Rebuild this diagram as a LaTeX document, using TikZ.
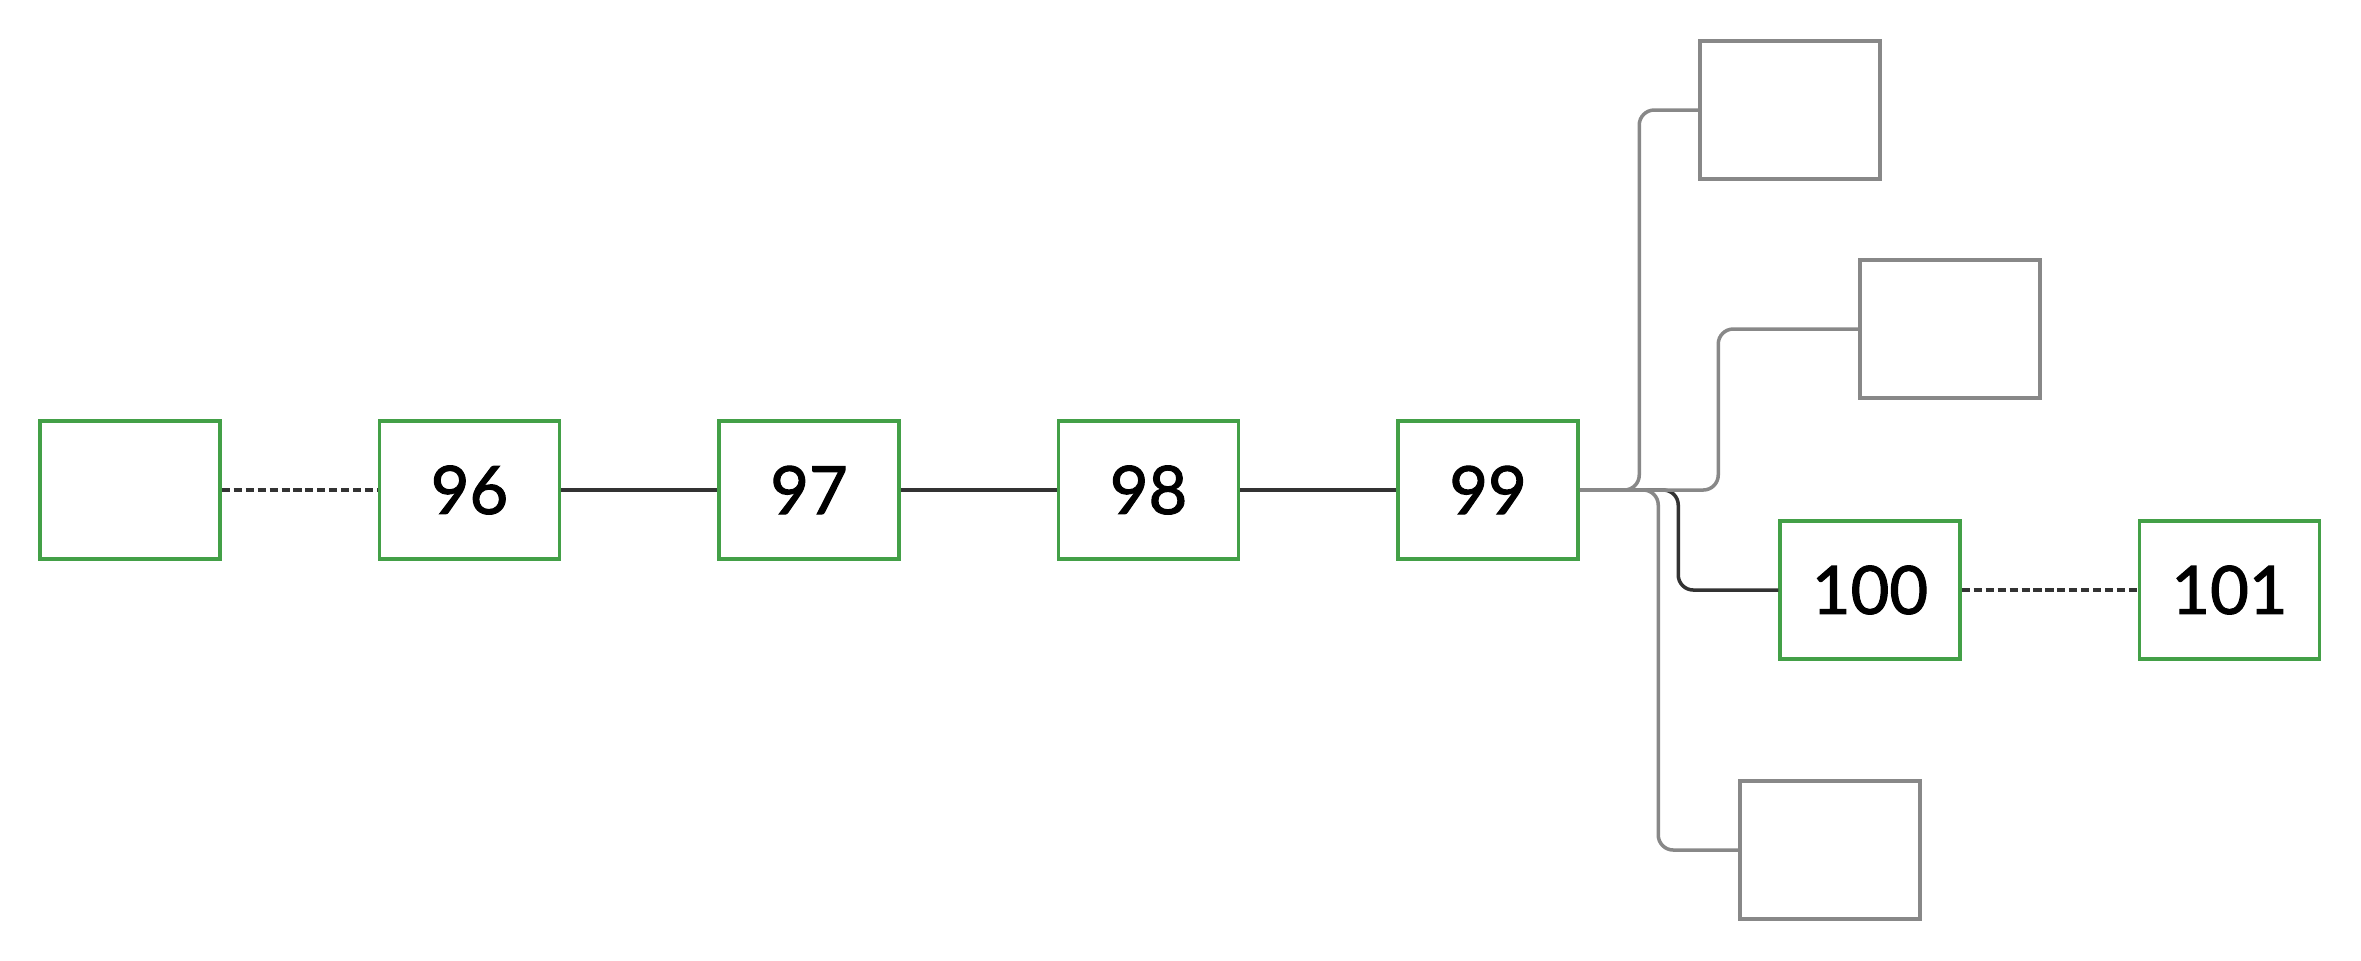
\documentclass[tikz,border=0pt]{standalone}
\usepackage{fontspec}
\setmainfont{Lato}[FakeBold=1.6,AutoFakeBold=1.6]
\usetikzlibrary{positioning,calc}
\definecolor{grn}{HTML}{43A047}
\definecolor{gry}{HTML}{888888}
\definecolor{lnk}{HTML}{333333}
\tikzset{
  blk/.style={draw=grn,line width=1pt,minimum width=1.8cm,minimum height=1.38cm,inner sep=0pt,font=\fontsize{19}{22}\selectfont\bfseries},
  gblk/.style={blk,draw=gry},
  ln/.style={draw=lnk,line width=1pt},
  dln/.style={ln,dash pattern=on 2.3pt off 1.1pt},
  br/.style={line width=1pt,rounded corners=0.15cm},
}
\begin{document}
\begin{tikzpicture}[node distance=1.56cm]
\useasboundingbox (0,0) rectangle (23.61,-9.6);
\node[blk] (b0) at (1.3,-4.9) {};
\node[blk,right=of b0] (n96) {96};
\node[blk,right=of n96] (n97) {97};
\node[blk,right=of n97] (n98) {98};
\node[blk,right=of n98] (n99) {99};
\node[blk] (n100) at (18.7,-5.9) {100};
\node[blk,right=1.76cm of n100] (n101) {101};
\node[gblk] (g1) at (17.9,-1.1) {};
\node[gblk] (g2) at (19.5,-3.29) {};
\node[gblk] (g3) at (18.3,-8.5) {};
\draw[dln] (b0)--(n96); \draw[ln] (n96)--(n97); \draw[ln] (n97)--(n98); \draw[ln] (n98)--(n99);
\draw[dln] (n100)--(n101);
% branches off 99
\draw[br,draw=lnk] (n99.east) -| ([xshift=-1cm]n100.west) -- (n100.west);
\draw[br,draw=gry] (n99.east) -| ([xshift=-0.8cm]g3.west) -- (g3.west);
\draw[br,draw=gry] (n99.east) -| ([xshift=-0.59cm]g1.west) -- (g1.west);
\draw[br,draw=gry] (n99.east) -| ([xshift=-1.4cm]g2.west) -- (g2.west);
\end{tikzpicture}
\end{document}
